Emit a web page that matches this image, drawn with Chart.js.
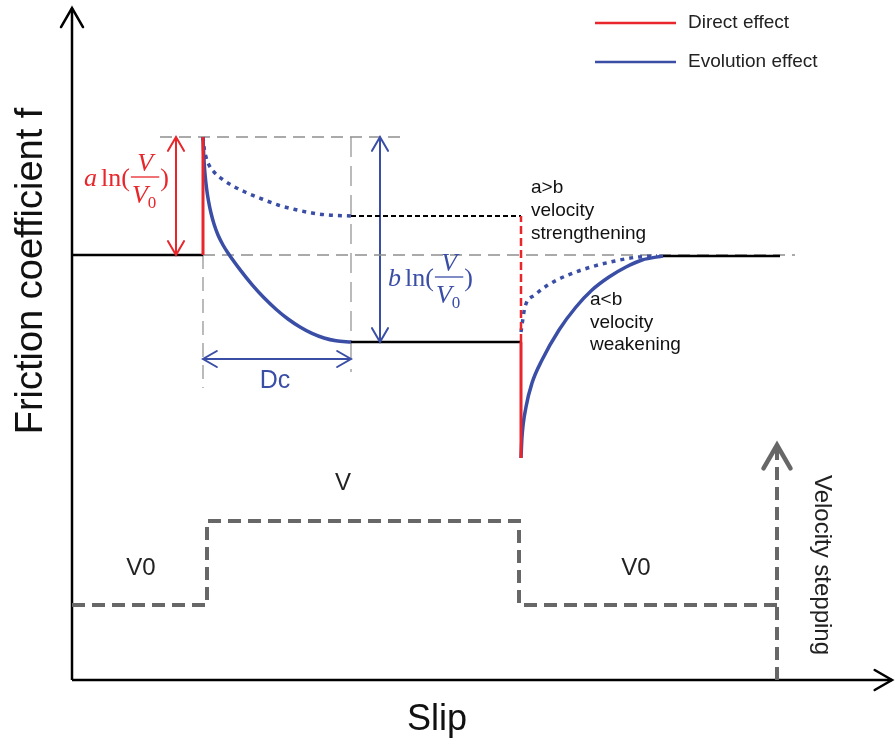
<!DOCTYPE html>
<html><head><meta charset="utf-8">
<script src="https://cdn.jsdelivr.net/npm/chart.js@4/dist/chart.umd.min.js"></script>
<style>html,body{margin:0;padding:0;background:#fff}#wrap{width:895px;height:744px;position:relative}</style>
</head><body><div id="wrap"><canvas id="c" width="895" height="744"></canvas></div>
<script>
// ---- data (slip, friction in arbitrary schematic units) ----
const axisSlip = [0, 82];
const axisF = [0, 67.2];
// velocity step up, Dc end, velocity step down, recovery end, plot end
const stepSlip = [13.1, 27.9, 44.9, 59.1, 70.8];
// base, peak, strengthening steady state, weakening steady state, minimum after step down
const frictionLevels = [42.5, 54.3, 46.4, 33.8, 22.2];

const decaySlip     = [13.1, 13.15, 13.22, 13.3, 13.45, 13.65, 13.9, 14.2, 14.6, 15.1, 15.6, 16.8, 18.0, 19.2, 20.4, 21.6, 22.8, 24.0, 25.2, 26.4, 27.9];
const decaySolidF   = [54.3, 53.0, 51.7, 50.6, 49.2, 47.9, 46.7, 45.6, 44.5, 43.5, 42.7, 41.04, 39.54, 38.22, 37.08, 36.1, 35.3, 34.66, 34.2, 33.92, 33.8];
const decayDotSlip  = [13.1, 13.2, 13.4, 13.7, 14.2, 15.0, 16.1, 17.3, 19.0, 20.6, 22.3, 24.0, 25.6, 27.9];
const decayDotF     = [54.3, 53.3, 52.3, 51.5, 50.8, 50.1, 49.4, 48.8, 48.1, 47.5, 47.05, 46.7, 46.5, 46.4];
const recoverSlip   = [44.9, 45.0, 45.4, 46.0, 47.0, 48.7, 50.4, 52.0, 53.7, 55.4, 57.0, 59.1];
const recoverSolidF = [22.2, 24.3, 27.3, 29.7, 32.0, 35.0, 37.3, 39.0, 40.3, 41.3, 42.0, 42.4];
const recoverDotSlip= [44.9, 45.3, 46.3, 47.6, 49.6, 51.9, 54.3, 56.6, 58.5];
const recoverDotF   = [34.8, 37.3, 38.5, 39.5, 40.5, 41.3, 41.9, 42.3, 42.4];

const velocitySlip  = [0, 13.5, 13.5, 44.7, 44.7, 70.5];
const velocityLevel = [7.5, 7.5, 15.9, 15.9, 7.5, 7.5];
const velocityArrowSlip = [70.5, 70.5];
const velocityArrowF = [0, 23.5];

const guideSlip = [8.8, 33.3, 72.3];       // peak guide start/end, base guide end
const guideLow  = [29.2, 30.8];            // lower ends of vertical guides
const arrowSlip = [10.4, 30.8];            // a-ln and b-ln arrows
const dcArrowF  = [32.1];

const legendLabels = ['Direct effect', 'Evolution effect'];

// ---- styles ----
const RED = '#e8262b', BLUE = '#3a4ea6', GREY = '#8f8f8f', STEP = '#676767';
const [S_UP, S_DC, S_DOWN, S_REC, S_END] = stepSlip;
const [F_BASE, F_PEAK, F_STR, F_WEAK, F_MIN] = frictionLevels;

const pts = (xs, ys) => xs.map((x, i) => ({x, y: ys[i]}));
const ds = (label, xs, ys, style) => Object.assign({
  label, data: pts(xs, ys), pointRadius: 0, borderWidth: 2.5, borderColor: '#000',
  fill: false, tension: 0, clip: false, borderCapStyle: 'butt', borderJoinStyle: 'miter'
}, style);

const datasets = [
  ds('Direct effect', [S_UP, S_UP], [F_BASE, F_PEAK], {borderColor: RED, borderWidth: 3}),
  ds('Evolution effect', decaySlip, decaySolidF, {borderColor: BLUE, borderWidth: 3.5, cubicInterpolationMode: 'monotone', borderJoinStyle: 'round'}),
  ds('evo dotted', decayDotSlip, decayDotF, {borderColor: BLUE, borderWidth: 3.5, borderDash: [4, 5], cubicInterpolationMode: 'monotone'}),
  ds('direct down', [S_DOWN, S_DOWN], [F_WEAK, F_MIN], {borderColor: RED, borderWidth: 3}),
  ds('direct down dashed', [S_DOWN, S_DOWN], [F_WEAK, F_STR], {borderColor: RED, borderWidth: 2.5, borderDash: [8, 4]}),
  ds('recover solid', recoverSlip, recoverSolidF, {borderColor: BLUE, borderWidth: 3.5, cubicInterpolationMode: 'monotone', borderJoinStyle: 'round'}),
  ds('recover dotted', recoverDotSlip, recoverDotF, {borderColor: BLUE, borderWidth: 3.5, borderDash: [4, 5], cubicInterpolationMode: 'monotone'}),
  ds('base left', [0, S_UP], [F_BASE, F_BASE], {}),
  ds('weak level', [S_DC, S_DOWN], [F_WEAK, F_WEAK], {}),
  ds('strength level', [S_DC, S_DOWN], [F_STR, F_STR], {borderWidth: 1.8, borderDash: [5, 3]}),
  ds('base right', [S_REC, S_END], [F_BASE - 0.1, F_BASE - 0.1], {}),
  ds('guide peak', [guideSlip[0], guideSlip[1]], [F_PEAK, F_PEAK], {borderColor: GREY, borderWidth: 1.6, borderDash: [12, 7]}),
  ds('guide base', [S_UP, guideSlip[2]], [F_BASE, F_BASE], {borderColor: GREY, borderWidth: 1.6, borderDash: [12, 7]}),
  ds('guide up', [S_UP, S_UP], [F_BASE, guideLow[0]], {borderColor: '#aaa', borderWidth: 1.6, borderDash: [14, 8]}),
  ds('guide Dc', [S_DC, S_DC], [F_PEAK, guideLow[1]], {borderColor: '#aaa', borderWidth: 1.6, borderDash: [20, 9]}),
  ds('a ln arrow', [arrowSlip[0], arrowSlip[0]], [F_BASE, F_PEAK], {borderColor: RED, borderWidth: 2, arrowStart: 16, arrowEnd: 16}),
  ds('b ln arrow', [arrowSlip[1], arrowSlip[1]], [F_WEAK, F_PEAK], {borderColor: BLUE, borderWidth: 2, arrowStart: 16, arrowEnd: 16}),
  ds('Dc arrow', [S_UP, S_DC], [dcArrowF[0], dcArrowF[0]], {borderColor: BLUE, borderWidth: 2, arrowStart: 16, arrowEnd: 16}),
  ds('velocity', velocitySlip, velocityLevel, {borderColor: STEP, borderWidth: 4, borderDash: [13, 7]}),
  ds('velocity arrow', velocityArrowSlip, velocityArrowF, {borderColor: STEP, borderWidth: 4, borderDash: [13, 7], arrowEnd: 27, arrowWidth: 4.5}),
  ds('y axis', [0, 0], axisF, {borderWidth: 2.5, arrowEnd: 22}),
  ds('x axis', axisSlip, [0, 0], {borderWidth: 2.5, arrowEnd: 20})
];

function chevron(ctx, tip, from, size, width, color, angDeg) {
  const dx = tip.x - from.x, dy = tip.y - from.y;
  const len = Math.hypot(dx, dy) || 1;
  const ux = dx / len, uy = dy / len;
  const a = (angDeg || 30) * Math.PI / 180;
  ctx.save();
  ctx.strokeStyle = color; ctx.lineWidth = width; ctx.setLineDash([]);
  ctx.lineCap = 'round'; ctx.lineJoin = 'miter';
  ctx.beginPath();
  const c = Math.cos(a), s = Math.sin(a);
  ctx.moveTo(tip.x - size * (ux * c - uy * s), tip.y - size * (uy * c + ux * s));
  ctx.lineTo(tip.x, tip.y);
  ctx.lineTo(tip.x - size * (ux * c + uy * s), tip.y - size * (uy * c - ux * s));
  ctx.stroke();
  ctx.restore();
}

function formula(ctx, coef, x, lineY, color) {
  ctx.save();
  ctx.fillStyle = color; ctx.strokeStyle = color;
  ctx.textBaseline = 'alphabetic'; ctx.textAlign = 'left';
  const it = 'italic 26px "Liberation Serif"', rm = '26px "Liberation Serif"', sub = '17px "Liberation Serif"';
  ctx.font = it; ctx.fillText(coef, x, lineY + 9);
  let cx = x + ctx.measureText(coef).width + 4;
  ctx.font = rm; ctx.fillText('ln(', cx, lineY + 9);
  cx += ctx.measureText('ln(').width + 1;
  ctx.font = it; const vw = ctx.measureText('V').width;
  ctx.font = sub; const zw = ctx.measureText('0').width;
  const w = vw + zw + 4;
  ctx.lineWidth = 1.3; ctx.beginPath(); ctx.moveTo(cx, lineY); ctx.lineTo(cx + w, lineY); ctx.stroke();
  ctx.font = it; ctx.fillText('V', cx + (w - vw) / 2, lineY - 6);
  ctx.fillText('V', cx + 1, lineY + 26);
  ctx.font = sub; ctx.fillText('0', cx + 1 + vw, lineY + 31);
  cx += w + 1;
  ctx.font = rm; ctx.fillText(')', cx, lineY + 9);
  ctx.restore();
}

const decor = {
  id: 'decor',
  afterDatasetsDraw(chart) {
    const ctx = chart.ctx, xs = chart.scales.x, ys = chart.scales.y;
    const P = (s, f) => ({x: xs.getPixelForValue(s), y: ys.getPixelForValue(f)});
    chart.data.datasets.forEach(d => {
      const n = d.data.length;
      const w = d.arrowWidth || d.borderWidth;
      if (d.arrowEnd) chevron(ctx, P(d.data[n-1].x, d.data[n-1].y), P(d.data[n-2].x, d.data[n-2].y), d.arrowEnd, w, d.borderColor, 30);
      if (d.arrowStart) chevron(ctx, P(d.data[0].x, d.data[0].y), P(d.data[1].x, d.data[1].y), d.arrowStart, w, d.borderColor, 30);
    });
    const text = (t, s, f, font, color, align, base) => {
      const p = P(s, f);
      ctx.save(); ctx.font = font; ctx.fillStyle = color;
      ctx.textAlign = align || 'center'; ctx.textBaseline = base || 'middle';
      ctx.fillText(t, p.x, p.y); ctx.restore();
    };
    const sans = px => px + 'px "Liberation Sans", Arial, sans-serif';
    // formulas
    const pa = P(1.2, 50.3); formula(ctx, 'a', pa.x, pa.y, RED);
    const pb = P(31.6, 40.3); formula(ctx, 'b', pb.x, pb.y, BLUE);
    // labels
    text('Dc', 20.3, 29.9, sans(25), BLUE);
    text('V0', 6.9, 11.2, sans(24), '#222');
    text('V', 27.1, 19.7, sans(24), '#222');
    text('V0', 56.4, 11.2, sans(24), '#222');
    ['a>b', 'velocity', 'strengthening'].forEach((t, i) => text(t, 45.9, 49.2 - 2.3 * i, sans(19), '#111', 'left'));
    ['a<b', 'velocity', 'weakening'].forEach((t, i) => text(t, 51.8, 38.0 - 2.25 * i, sans(19), '#111', 'left'));
    // velocity stepping (rotated clockwise)
    const pv = P(75.0, 11.5);
    ctx.save(); ctx.translate(pv.x, pv.y); ctx.rotate(Math.PI / 2);
    ctx.font = sans(24); ctx.fillStyle = '#222'; ctx.textAlign = 'center'; ctx.textBaseline = 'middle';
    ctx.fillText('Velocity stepping', 0, 0); ctx.restore();
    // axis titles
    ctx.save(); ctx.translate(42, 271); ctx.rotate(-Math.PI / 2);
    ctx.font = sans(38); ctx.fillStyle = '#111'; ctx.textAlign = 'center'; ctx.textBaseline = 'alphabetic';
    ctx.fillText('Friction coefficient f', 0, 0); ctx.restore();
    ctx.save(); ctx.font = sans(36); ctx.fillStyle = '#111'; ctx.textAlign = 'center'; ctx.textBaseline = 'alphabetic';
    ctx.fillText('Slip', 437, 730); ctx.restore();
    // legend
    [[RED, 23], [BLUE, 62]].forEach(([c, y], i) => {
      ctx.save(); ctx.strokeStyle = c; ctx.lineWidth = 2.5;
      ctx.beginPath(); ctx.moveTo(595, y); ctx.lineTo(676, y); ctx.stroke();
      ctx.font = sans(19); ctx.fillStyle = '#222'; ctx.textAlign = 'left'; ctx.textBaseline = 'middle';
      ctx.fillText(legendLabels[i], 688, y); ctx.restore();
    });
  }
};

new Chart(document.getElementById('c'), {
  type: 'line',
  data: {datasets},
  plugins: [decor],
  options: {
    responsive: false, animation: false, devicePixelRatio: 1,
    layout: {padding: {left: 72, right: 3, top: 8, bottom: 64}},
    plugins: {legend: {display: false}, tooltip: {enabled: false}},
    events: [],
    scales: {
      x: {type: 'linear', min: axisSlip[0], max: axisSlip[1], display: false},
      y: {type: 'linear', min: axisF[0], max: axisF[1], display: false}
    }
  }
});
</script></body></html>
